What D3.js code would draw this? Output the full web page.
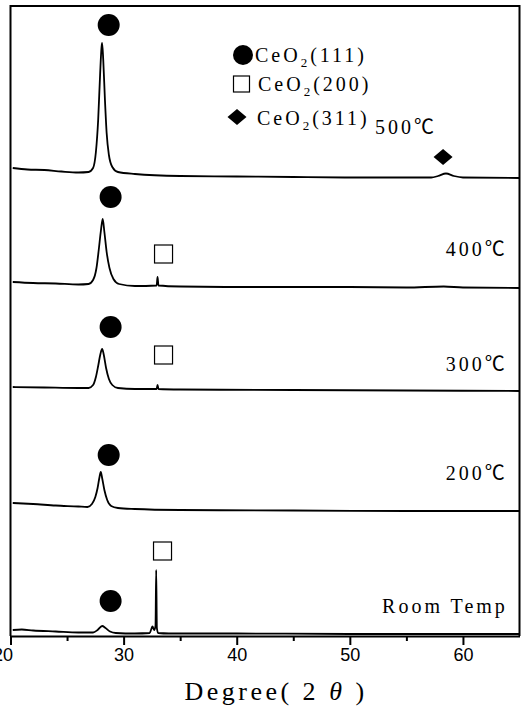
<!DOCTYPE html>
<html>
<head>
<meta charset="utf-8">
<script src="https://cdn.jsdelivr.net/npm/d3@7"></script>
<style>
  html, body { margin: 0; padding: 0; background: #fff; }
  svg { display: block; }
</style>
</head>
<body>
<svg id="chart" width="521" height="711"></svg>
<script>
// XRD patterns: [2theta (deg), intensity above the pattern's own baseline]
var roomTemp = [[20.2,4],[21,4.5],[22,3.5],[24,2.5],[26,1.5],[27.3,1.5],[27.7,4],[28.1,8],[28.4,6],
  [28.8,2.5],[29.3,1],[31,0.5],[32.3,1],[32.45,5],[32.55,7.5],[32.7,4],[32.82,8],[32.88,64],
  [32.94,6],[33.05,1],[34,0.5],[40,0.5],[50,0],[65,0]];
var t200 = [[20.2,8],[22,7],[24,5.5],[26,4.5],[26.8,4],[27.2,7],[27.5,14],[27.7,23],[27.87,34],
  [27.98,39],[28.1,33],[28.3,21],[28.55,11],[28.9,5],[29.5,3],[31,2],[35,1],[45,0.5],[55,0],[65,0]];
var t300 = [[20.2,4],[23,3.5],[26,3],[26.9,3],[27.3,6],[27.55,14],[27.75,25],[27.95,37],[28.1,42],
  [28.25,36],[28.45,23],[28.7,12],[29,6],[29.5,3],[31,2],[32.92,2],[33,6],[33.08,2],[35,1.5],
  [45,1],[55,0.5],[65,0]];
var t400 = [[20.2,6],[22,5],[24,4.5],[26,3.5],[26.9,4],[27.3,8],[27.6,20],[27.8,38],[28,58],
  [28.15,69],[28.3,56],[28.5,36],[28.75,20],[29.1,9],[29.6,4],[31,2],[32.92,2.5],[33,11],
  [33.08,2.5],[35,1.5],[40,1],[50,1],[55,0.5],[58.3,1.5],[60,0.5],[65,0]];
var t500 = [[20.2,10],[21.5,8.5],[23,8],[24.5,6.5],[26,5.5],[26.9,6],[27.3,10],[27.55,26],[27.75,58],
  [27.92,103],[28.05,131],[28.1,135],[28.2,118],[28.35,78],[28.5,45],[28.7,23],[29,11],[29.5,6],
  [31,4],[35,2],[40,1.5],[45,1],[50,0.5],[55,0.5],[57.2,0.5],[57.8,2],[58.5,4.5],[59.2,2],[60,0.5],[65,0]];

var patterns = [roomTemp, t200, t300, t400, t500];
var sampleNames = ["Room Temp", "200\u2103", "300\u2103", "400\u2103", "500\u2103"];
var offsets = [2, 125, 245, 348, 458];

// peak markers: [type, 2theta, level]
var peakMarks = [
  ["circle", 28.68, 611], ["circle", 28.85, 439], ["circle", 28.85, 309],
  ["circle", 28.68, 181], ["circle", 28.85, 35],
  ["square", 33.53, 382], ["square", 33.53, 281], ["square", 33.44, 85],
  ["diamond", 58.24, 479]
];

var legendTypes = ["circle", "square", "diamond"];
var legendPlanes = ["(111)", "(200)", "(311)"];

var majorTicks = [20, 30, 40, 50, 60];
var minorTicks = [25, 35, 45, 55];

var svg = d3.select("#chart");
var x = d3.scaleLinear().domain([20, 65]).range([10.5, 519.5]);
var y = d3.scaleLinear().domain([0, 630]).range([636, 6]);

var serif = "'Liberation Serif', 'Times New Roman', 'Noto Sans CJK SC', serif";

// frame (left, top, right)
svg.append("path")
    .attr("d", "M" + x(20) + "," + y(0) + "V" + y(630) + "H" + x(65) + "V" + y(0))
    .attr("fill", "none")
    .attr("stroke", "#000")
    .attr("stroke-width", 2);

// patterns
var line = d3.line()
    .x(function (d) { return x(d[0]); })
    .curve(d3.curveMonotoneX);

patterns.forEach(function (p, i) {
  svg.append("path")
      .datum(p)
      .attr("d", line.y(function (d) { return y(d[1] + offsets[i]); }))
      .attr("fill", "none")
      .attr("stroke", "#000")
      .attr("stroke-width", 1.8)
      .attr("stroke-linejoin", "round");
});

// markers
function drawMark(g, type, cx, cy, big) {
  if (type === "circle") {
    g.append("circle").attr("cx", cx).attr("cy", cy).attr("r", big ? 11 : 10).attr("fill", "#000");
  } else if (type === "square") {
    var s = big ? 18 : 16;
    g.append("rect").attr("x", cx - s / 2).attr("y", cy - s / 2).attr("width", s).attr("height", s)
        .attr("fill", "#fff").attr("stroke", "#000").attr("stroke-width", 1.2);
  } else {
    g.append("path")
        .attr("d", "M" + (cx - 9.5) + "," + cy + "L" + cx + "," + (cy - 8) + "L" + (cx + 9.5) + "," + cy + "L" + cx + "," + (cy + 8) + "Z")
        .attr("fill", "#000");
  }
}

var marks = svg.append("g");
peakMarks.forEach(function (m) {
  drawMark(marks, m[0], x(m[1]), y(m[2]), true);
});

// sample labels (right side)
var labelAt = [[63.97, 23], [63.97, 156], [63.97, 265], [63.97, 380], [57.7, 502]];
svg.selectAll("text.sample")
    .data(sampleNames)
    .enter()
    .append("text")
    .attr("class", "sample")
    .attr("x", function (d, i) { return x(labelAt[i][0]); })
    .attr("y", function (d, i) { return y(labelAt[i][1]); })
    .attr("text-anchor", "end")
    .attr("font-family", serif)
    .attr("font-size", 20)
    .attr("letter-spacing", 3)
    .text(function (d) { return d; });

// legend
var legend = svg.append("g");
legendTypes.forEach(function (t, i) {
  var rowY = [55, 84, 117][i];
  var mx = [243, 241.5, 237][i];
  drawMark(legend, t, mx, rowY, false);
  var txt = legend.append("text")
      .attr("x", [255, 258, 257][i])
      .attr("y", [62, 91, 125][i])
      .attr("font-family", serif)
      .attr("font-size", 20)
      .attr("letter-spacing", 3);
  txt.append("tspan").text("CeO");
  txt.append("tspan").attr("font-size", 13).attr("dy", 5).text("2");
  txt.append("tspan").attr("dy", -5).text(legendPlanes[i]);
});

// bottom axis
var axisG = svg.append("g")
    .attr("transform", "translate(0," + y(0) + ")")
    .call(d3.axisBottom(x).tickValues(majorTicks).tickSize(9).tickPadding(3).tickSizeOuter(0));
axisG.select(".domain").attr("stroke-width", 2);
axisG.selectAll(".tick line").attr("stroke-width", 2);
axisG.selectAll(".tick text")
    .attr("font-family", "'Liberation Sans', Arial, sans-serif")
    .attr("font-size", 18)
    .attr("fill", "#000");
axisG.selectAll(".tick text")
    .filter(function (d) { return d === 20; })
    .attr("text-anchor", "end")
    .attr("x", 2);

var minorG = svg.append("g")
    .attr("transform", "translate(0," + y(0) + ")")
    .call(d3.axisBottom(x).tickValues(minorTicks).tickSize(5).tickFormat(""));
minorG.select(".domain").remove();
minorG.selectAll(".tick line").attr("stroke-width", 2);

// x title
var title = svg.append("text")
    .attr("x", 276)
    .attr("y", 700)
    .attr("text-anchor", "middle")
    .attr("font-family", serif)
    .attr("font-size", 26)
    .attr("letter-spacing", 3.5);
title.append("tspan").text("Degree( 2 ");
title.append("tspan").attr("font-style", "italic").text("\u03b8");
title.append("tspan").text(" )");
</script>
</body>
</html>
